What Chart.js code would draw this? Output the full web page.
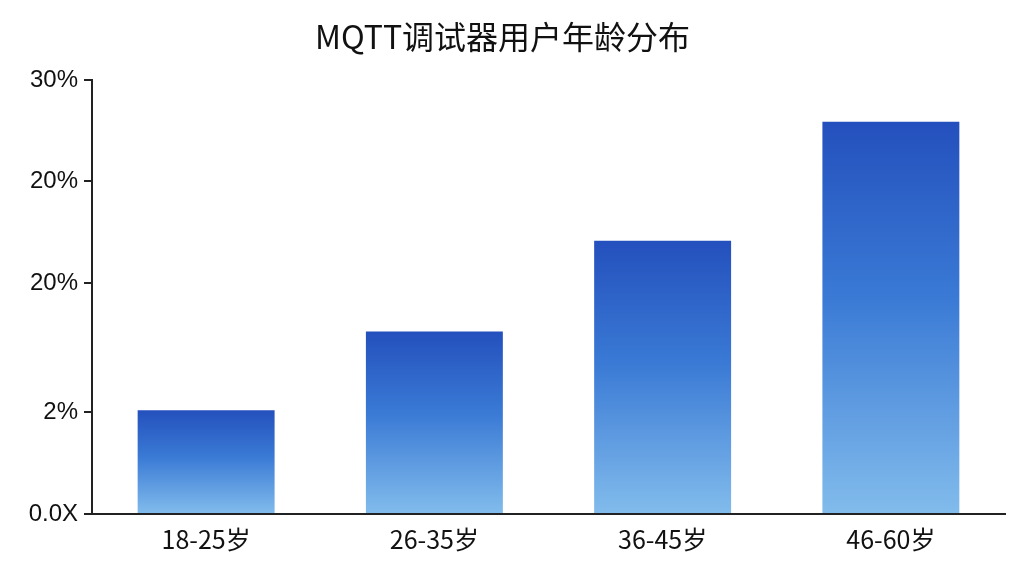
<!DOCTYPE html>
<html><head><meta charset="utf-8">
<script src="https://cdn.jsdelivr.net/npm/chart.js@4"></script>
<style>html,body{margin:0;background:#fff}#w{width:1024px;height:576px}</style>
</head><body><div id="w"><canvas id="c"></canvas></div>
<script>
const categories = ['18-25岁','26-35岁','36-45岁','46-60岁'];
const values = [103, 181, 271, 389];
const tickValues = [0, 101, 229, 330, 430];
const tickLabels = ['0.0X', '2%', '20%', '20%', '30%'];

function grad(ctx){
  const c = ctx.chart, a = c.chartArea;
  if(!a || ctx.type !== 'data') return '#3a78d4';
  const y = c.scales.y.getPixelForValue(ctx.raw);
  const g = c.ctx.createLinearGradient(0, y, 0, a.bottom);
  g.addColorStop(0, '#2450bd');
  g.addColorStop(0.45, '#3a7ad5');
  g.addColorStop(1, '#82bcec');
  return g;
}
new Chart(document.getElementById('c'), {
  type: 'bar',
  data: { labels: categories, datasets: [{ data: values, backgroundColor: grad, categoryPercentage: 0.6, barPercentage: 1 }] },
  options: {
    responsive: true, maintainAspectRatio: false, animation: false,
    layout: { padding: { right: 19, left: 0, bottom: 10 } },
    plugins: {
      legend: { display: false },
      tooltip: { enabled: false },
      title: { display: true, text: 'MQTT调试器用户年龄分布', color: '#111',
        font: { family: 'Noto Sans CJK SC', size: 32, weight: 'normal' }, padding: { top: 18, bottom: 24 } }
    },
    scales: {
      x: {
        grid: { display: false, drawTicks: false },
        border: { color: '#222', width: 2 },
        ticks: { color: '#111', padding: 10, font: { family: 'Noto Sans CJK SC', size: 25 } },
        afterFit: s => { s.height = 52; }
      },
      y: {
        min: 0, max: 430,
        afterBuildTicks: s => { s.ticks = tickValues.map(v => ({ value: v })); },
        grid: { display: true, drawOnChartArea: false, tickLength: 8, color: '#222', lineWidth: 2 },
        border: { color: '#222', width: 2 },
        ticks: { color: '#111', padding: 6, font: { family: 'Liberation Sans', size: 24 },
          callback: (v, i) => tickLabels[i] },
        afterFit: s => { s.width = 92; }
      }
    }
  }
});
</script></body></html>
